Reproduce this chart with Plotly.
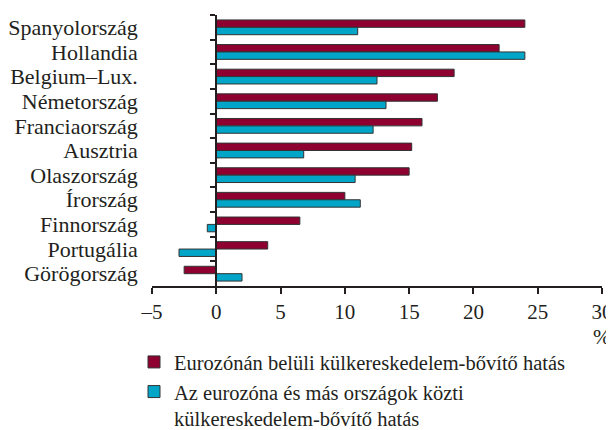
import plotly.graph_objects as go

categories = ["Spanyolország", "Hollandia", "Belgium–Lux.", "Németország", "Franciaország",
              "Ausztria", "Olaszország", "Írország", "Finnország", "Portugália", "Görögország"]
intra_values = [24.0, 22.0, 18.5, 17.2, 16.0, 15.2, 15.0, 10.0, 6.5, 4.0, -2.5]
extra_values = [11.0, 24.0, 12.5, 13.2, 12.2, 6.8, 10.8, 11.2, -0.7, -2.9, 2.0]
series_names = ["Eurozónán belüli külkereskedelem-bővítő hatás",
                "Az eurozóna és más országok közti<br>külkereskedelem-bővítő hatás"]
x_tickvals = [-5, 0, 5, 10, 15, 20, 25, 30]
x_ticktext = ["–5", "0", "5", "10", "15", "20", "25", "30"]

RED = "#8E0030"
BLUE = "#00A5C8"
OUT = "#333333"
TXT = "#231f20"
FONT = "Liberation Serif"
FS = 21

fig = go.Figure()
fig.add_trace(go.Bar(y=categories, x=intra_values, orientation="h", name=series_names[0],
                     marker=dict(color=RED, line=dict(color=OUT, width=1))))
fig.add_trace(go.Bar(y=categories, x=extra_values, orientation="h", name=series_names[1],
                     marker=dict(color=BLUE, line=dict(color=OUT, width=1))))

xmin, xmax = -5, 30
# page has an 8px body margin, so the figure is 8px smaller and margins shifted
fig.update_layout(
    width=606, height=422,
    margin=dict(l=144, r=12, t=7, b=144, autoexpand=False),
    plot_bgcolor="white", paper_bgcolor="white",
    font=dict(family=FONT, size=FS, color=TXT),
    barmode="group", bargap=0.4, bargroupgap=0,
    showlegend=True,
    legend=dict(x=-0.04, xanchor="left", y=-0.207, yanchor="top",
                traceorder="normal", valign="top",
                font=dict(family=FONT, size=20.5, color=TXT),
                bgcolor="rgba(0,0,0,0)", tracegroupgap=0),
    xaxis=dict(range=[xmin, xmax], tickvals=x_tickvals, ticktext=x_ticktext,
               showgrid=False, zeroline=False, showline=True, linecolor=TXT, linewidth=2,
               ticks="outside", ticklen=6, tickwidth=2, tickcolor=TXT,
               ticklabelstandoff=0,
               tickfont=dict(family=FONT, size=FS, color=TXT)),
    yaxis=dict(type="category", categoryarray=categories, range=[len(categories) - 0.5, -0.5],
               anchor="free", position=(0 - xmin) / (xmax - xmin),
               tickmode="linear", tick0=0, dtick=1,
               showgrid=False, zeroline=False, showline=True, linecolor=TXT, linewidth=2,
               ticks="outside", ticklen=5, tickwidth=2, tickcolor=TXT, tickson="boundaries",
               ticklabelstandoff=73,
               tickfont=dict(family=FONT, size=22, color=TXT)),
)
fig.add_annotation(x=30, xref="x", y=-0.188, yref="paper", text="%", showarrow=False,
                   xanchor="center", yanchor="middle",
                   font=dict(family=FONT, size=FS, color=TXT))

fig.write_html("out.html")
